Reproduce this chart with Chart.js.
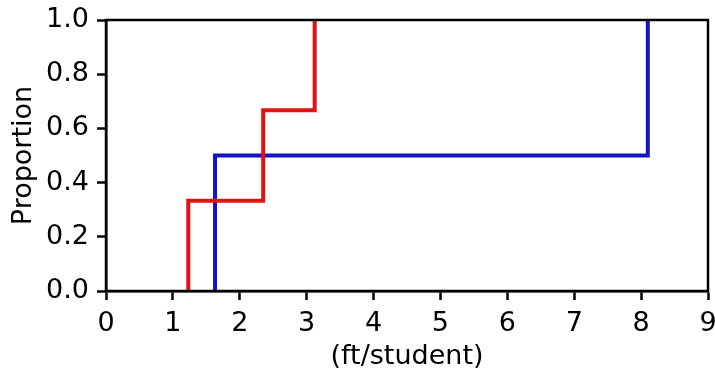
<!DOCTYPE html>
<html>
<head>
<meta charset="utf-8">
<script src="https://cdn.jsdelivr.net/npm/chart.js@4/dist/chart.umd.min.js"></script>
<style>
    html, body { margin: 0; padding: 0; background: #fff; }
    #wrap { width: 715px; height: 371px; position: relative; }
</style>
</head>
<body>
<div id="wrap"><canvas id="ecdf"></canvas></div>
<script>
    // step positions
    const redX = [1.23, 2.35, 3.12];
    const redY = [0.333, 0.667, 1.0];
    const blueX = [1.63, 8.10];
    const blueY = [0.5, 1.0];

    const xTicks = [0, 1, 2, 3, 4, 5, 6, 7, 8, 9];
    const yTicks = [0.0, 0.2, 0.4, 0.6, 0.8, 1.0];

    const FONT = { family: 'DejaVu Sans', size: 27 };

    // ECDF: start at the first x on 0, then climb at each step
    function stepPoints(xs, ys) {
        const pts = [{ x: xs[0], y: 0 }];
        xs.forEach((x, i) => pts.push({ x: x, y: ys[i] }));
        return pts;
    }

    // draw the full frame round the plot area
    const frame = {
        id: 'frame',
        afterDraw(chart) {
            const a = chart.chartArea;
            const ctx = chart.ctx;
            ctx.save();
            ctx.strokeStyle = '#000';
            ctx.lineWidth = 2.5;
            ctx.strokeRect(a.left, a.top, a.right - a.left, a.bottom - a.top);
            ctx.restore();
        }
    };

    new Chart(document.getElementById('ecdf'), {
        type: 'scatter',
        data: {
            datasets: [{
                data: stepPoints(redX, redY),
                showLine: true,
                stepped: 'before',
                borderColor: '#e31212',
                borderWidth: 4,
                pointRadius: 0
            }, {
                data: stepPoints(blueX, blueY),
                showLine: true,
                stepped: 'before',
                borderColor: '#1212c8',
                borderWidth: 4,
                pointRadius: 0
            }]
        },
        options: {
            responsive: true,
            maintainAspectRatio: false,
            animation: false,
            layout: {
                padding: { top: 20, right: 7, left: 0, bottom: 0 }
            },
            plugins: {
                legend: { display: false },
                tooltip: { enabled: false }
            },
            scales: {
                x: {
                    type: 'linear',
                    min: 0,
                    max: 9,
                    afterBuildTicks: s => { s.ticks = xTicks.map(v => ({ value: v })); },
                    afterFit: s => {
                        s.height = 80;
                        s.paddingLeft = 0;
                        s.paddingRight = 0;
                    },
                    grid: {
                        drawOnChartArea: false,
                        drawTicks: true,
                        tickLength: 9,
                        tickWidth: 2.5,
                        tickColor: '#000'
                    },
                    border: { display: true, color: '#000', width: 2.5 },
                    ticks: {
                        color: '#000',
                        font: FONT,
                        padding: 8,
                        maxRotation: 0,
                        callback: v => String(v)
                    },
                    title: {
                        display: true,
                        text: '(ft/student)',
                        color: '#000',
                        font: FONT,
                        padding: { top: 0, bottom: -2 }
                    }
                },
                y: {
                    type: 'linear',
                    min: 0,
                    max: 1,
                    afterBuildTicks: s => { s.ticks = yTicks.map(v => ({ value: v })); },
                    afterFit: s => {
                        s.width = 106;
                        s.paddingTop = 0;
                        s.paddingBottom = 0;
                    },
                    grid: {
                        drawOnChartArea: false,
                        drawTicks: true,
                        tickLength: 9,
                        tickWidth: 2.5,
                        tickColor: '#000'
                    },
                    border: { display: true, color: '#000', width: 2.5 },
                    ticks: {
                        color: '#000',
                        font: FONT,
                        padding: 8,
                        callback: v => v.toFixed(1)
                    },
                    title: {
                        display: true,
                        text: 'Proportion',
                        color: '#000',
                        font: FONT,
                        padding: { top: 8, bottom: 0 }
                    }
                }
            }
        },
        plugins: [frame]
    });
</script>
</body>
</html>
